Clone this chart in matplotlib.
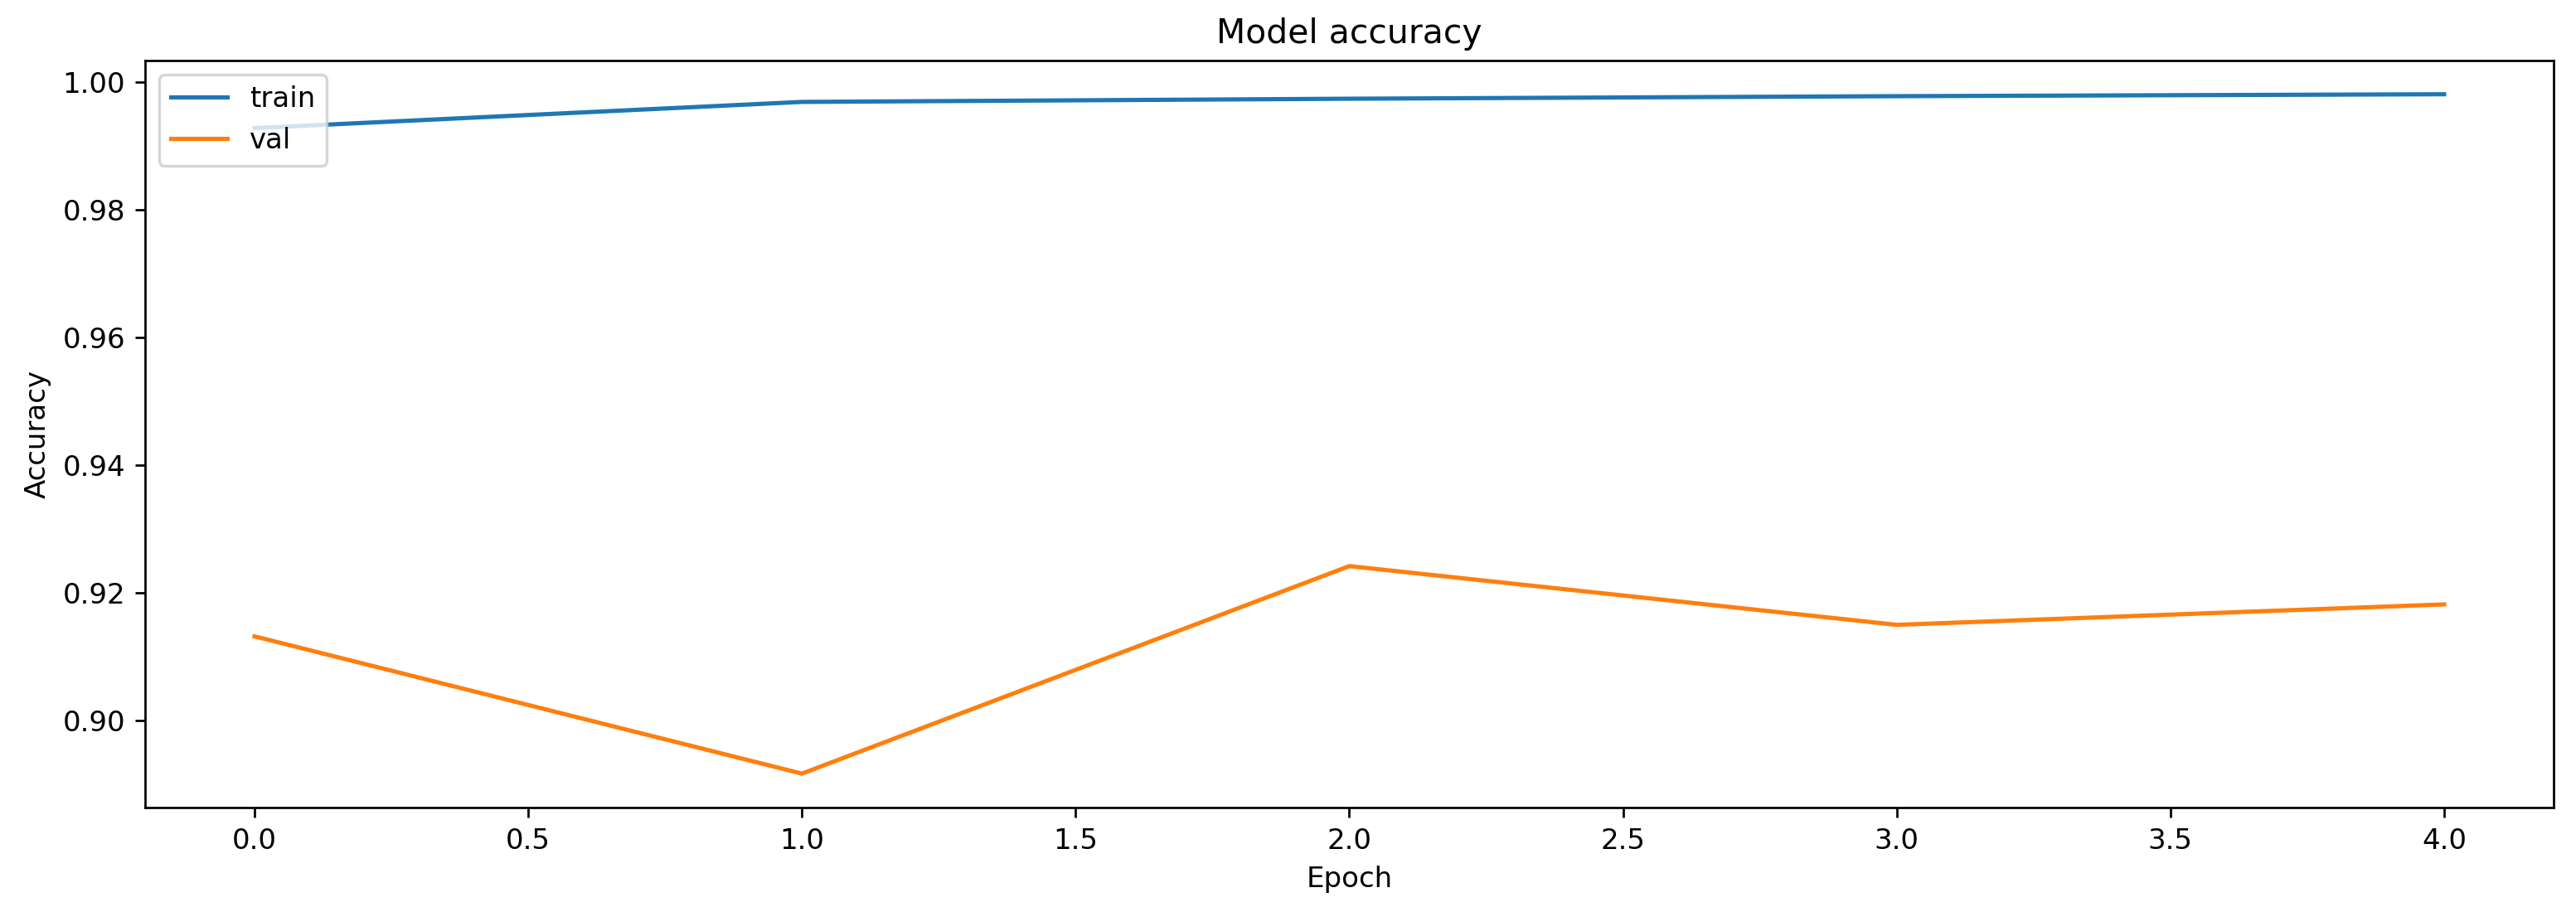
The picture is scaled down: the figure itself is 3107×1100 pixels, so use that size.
import matplotlib
matplotlib.use("Agg")
import matplotlib.pyplot as plt

epochs = [0, 1, 2, 3, 4]
train_acc = [0.9928, 0.9969, 0.9974, 0.9978, 0.9981]
val_acc = [0.9132, 0.8917, 0.9242, 0.9150, 0.9182]
series_labels = ["train", "val"]

DPI = 245
fig = plt.figure(figsize=(3107 / DPI, 1100 / DPI), dpi=DPI)
ax = fig.add_axes([0.0563, 0.1145, 0.9913 - 0.0563, 0.9339 - 0.1145])
ax.plot(epochs, train_acc, label=series_labels[0])
ax.plot(epochs, val_acc, label=series_labels[1])
ax.set_title("Model accuracy")
ax.set_xlabel("Epoch")
ax.set_ylabel("Accuracy")
ax.legend(loc="upper left")
fig.savefig("out.png", dpi=DPI)
